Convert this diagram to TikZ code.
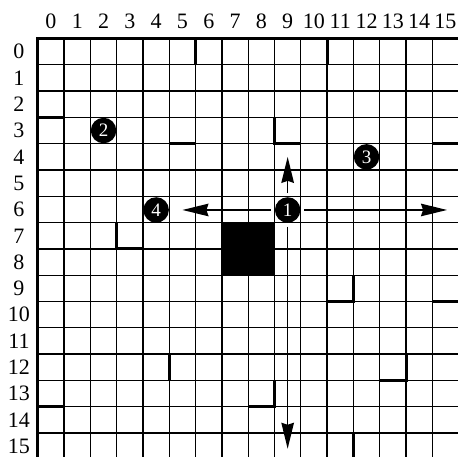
\documentclass[tikz,border=0pt]{standalone}
\usepackage{fontspec}
\setmainfont{Liberation Serif}
\usetikzlibrary{arrows.meta}
\tikzset{
  gridline/.style={line width=1.3pt, black},
  wall/.style={line width=3pt, black, line join=miter},
  lbl/.style={font=\fontsize{22}{24}\selectfont, inner sep=0pt, anchor=base},
  badge/.style={circle, fill=black, text=white, minimum size=25.5pt, inner sep=0pt, outer sep=4pt, font=\fontsize{19}{19}\selectfont},
  arr/.style={line width=1.6pt, -{Stealth[length=26pt,width=12.5pt,inset=2pt]}}
}
\begin{document}
\begin{tikzpicture}[x=26.3pt,y=-26.3pt]
\path[use as bounding box] (-37.8pt,38.5pt) rectangle (420.2pt,-418.5pt);
\clip (-37.8pt,38.5pt) rectangle (420.2pt,-418.5pt);
% grid
\foreach \i in {0,...,16} {
  \draw[gridline] (\i,0) -- (\i,16);
  \draw[gridline] (0,\i) -- (16,\i);
}
% border
\draw[wall] (0,16) -- (0,0) -- (16,0);
% column labels
\foreach \i in {0,...,15} {
  \node[lbl] (c\i) at ([yshift=10pt]\i+0.5,0) {\i};
}
% row labels
\foreach \i in {0,...,15} {
  \node[lbl] (r\i) at ([xshift=-18.8pt,yshift=-7.3pt]0,\i+0.5) {\i};
}
% walls
\draw[wall] (6,0) -- (6,1);
\draw[wall] (11,0) -- (11,1);
\draw[wall] (0,3) -- (1,3);
\draw[wall] (5,4) -- (6,4);
\draw[wall] (9,3) -- (9,4) -- (10,4);
\draw[wall] (15,4) -- (16,4);
\draw[wall] (3,7) -- (3,8) -- (4,8);
\fill[black] (7,7) rectangle (9,9);
\draw[wall] (12,9) -- (12,10) -- (11,10);
\draw[wall] (15,10) -- (16,10);
\draw[wall] (5,12) -- (5,13);
\draw[wall] (14,12) -- (14,13) -- (13,13);
\draw[wall] (9,13) -- (9,14) -- (8,14);
\draw[wall] (0,14) -- (1,14);
\draw[wall] (12,15) -- (12,16);
% badges
\node[badge] (n1) at (9.5,6.52) {1};
\node[badge] (n2) at (2.5,3.5) {2};
\node[badge] (n3) at (12.5,4.5) {3};
\node[badge] (n4) at (4.5,6.52) {4};
% arrows
\coordinate (tu) at (9.5,4.5);
\coordinate (tl) at (5.5,6.52);
\coordinate (tr) at (15.56,6.52);
\coordinate (td) at (9.5,15.6);
\draw[arr] (n1.north) -- (tu);
\draw[arr] (n1.west) -- (tl);
\draw[arr] (n1.east) -- (tr);
\draw[arr] (n1.south) -- (td);
\end{tikzpicture}
\end{document}
